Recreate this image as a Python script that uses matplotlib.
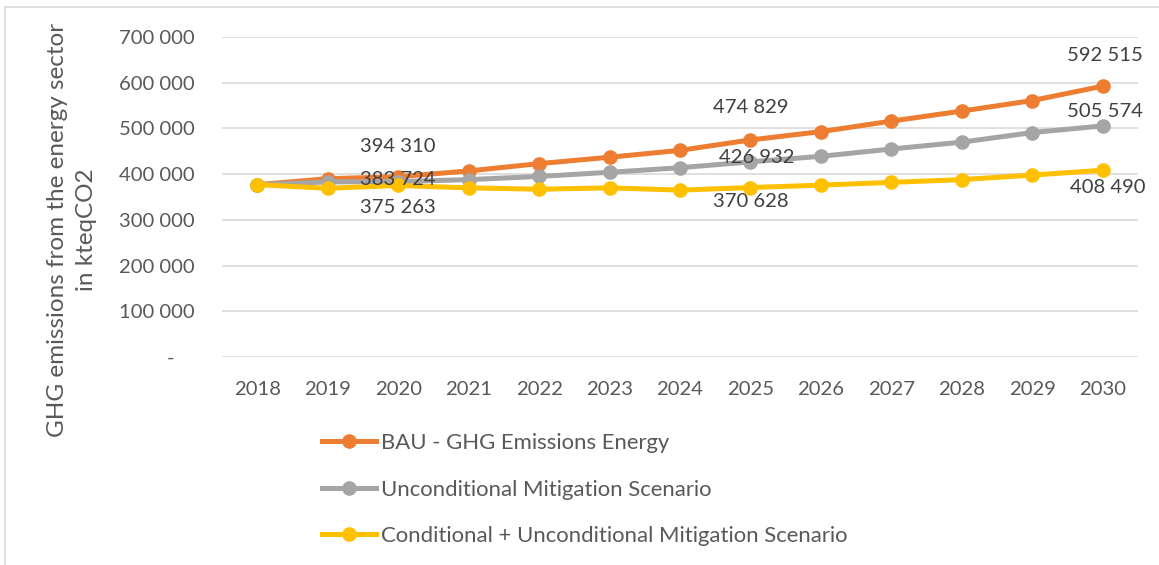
import matplotlib
matplotlib.use("Agg")
import matplotlib.pyplot as plt
from matplotlib.lines import Line2D

years = ["2018", "2019", "2020", "2021", "2022", "2023", "2024",
         "2025", "2026", "2027", "2028", "2029", "2030"]
bau = [377000, 390000, 394310, 407000, 423000, 437000, 452000,
       474829, 493000, 516000, 538000, 561000, 592515]
uncond = [377000, 383000, 383724, 388000, 395000, 404000, 414000,
          426932, 439000, 455000, 470000, 491000, 505574]
cond = [377000, 369000, 375263, 370000, 367000, 370000, 365000,
        370628, 376000, 382000, 388000, 398000, 408490]
series_names = ["BAU - GHG Emissions Energy",
                "Unconditional Mitigation Scenario",
                "Conditional + Unconditional Mitigation Scenario"]
yticks = [0, 100000, 200000, 300000, 400000, 500000, 600000, 700000]
ylabel = "GHG emissions from the energy sector\nin kteqCO2"

colors = ["#ED7D31", "#A5A5A5", "#FFC000"]
txt = "#595959"
plt.rcParams['font.family'] = ['Lato', 'DejaVu Sans']

fig = plt.figure(figsize=(11.59, 5.65), dpi=100)
ax = fig.add_axes([222/1159, 1-357/565, (1138-222)/1159, (357-37)/565])

x = list(range(len(years)))
for data, c in zip([bau, uncond, cond], colors):
    ax.plot(x, data, color=c, lw=3.6, marker='o', markersize=9.5,
            solid_capstyle='round', zorder=3)

ax.set_xlim(-0.5, len(years) - 0.5)
ax.set_ylim(0, 700000)
ax.set_yticks(yticks)
ax.set_yticklabels([("-    " if v == 0 else f"{v:,}".replace(",", " ")) for v in yticks])
ax.set_xticks(x)
ax.set_xticklabels(years)
ax.grid(axis='y', color='#D9D9D9', lw=1.2, zorder=0)
for s in ax.spines.values():
    s.set_visible(False)
ax.tick_params(axis='y', length=0, pad=19.5, labelsize=14.6, labelcolor=txt)
ax.tick_params(axis='x', length=0, pad=17, labelsize=14.6, labelcolor=txt)

def fmt(v):
    return f"{v:,}".replace(",", " ")

lab_kw = dict(fontsize=14.6, color="#404040", ha='center', va='center', zorder=4,
              textcoords='offset pixels')
i20 = years.index("2020"); i25 = years.index("2025"); i30 = years.index("2030")
ax.annotate(fmt(bau[i20]), (i20, bau[i20]), xytext=(0, 30), **lab_kw)
ax.annotate(fmt(uncond[i20]), (i20, uncond[i20]), xytext=(0, 2), **lab_kw)
ax.annotate(fmt(cond[i20]), (i20, cond[i20]), xytext=(0, -22), **lab_kw)
ax.annotate(fmt(bau[i25]), (i25, bau[i25]), xytext=(0, 32), **lab_kw)
ax.annotate(fmt(uncond[i25]), (i25, uncond[i25]), xytext=(6, 4), **lab_kw)
ax.annotate(fmt(cond[i25]), (i25, cond[i25]), xytext=(0, -14), **lab_kw)
ax.annotate(fmt(bau[i30]), (i30, bau[i30]), xytext=(2, 31), **lab_kw)
ax.annotate(fmt(uncond[i30]), (i30, uncond[i30]), xytext=(2, 14), **lab_kw)
ax.annotate(fmt(cond[i30]), (i30, cond[i30]), xytext=(5, -17), **lab_kw)

fig.text(72/1159, 1-230/565, ylabel, rotation=90, ha='center', va='center',
         fontsize=17.5, color=txt, linespacing=1.45)

handles = [Line2D([], [], color=c, lw=3.6, marker='o', markersize=9.5) for c in colors]
fig.legend(handles, series_names, loc='upper left',
           bbox_to_anchor=(322/1159, 1-433/565), frameon=False,
           fontsize=15.9, labelcolor=txt, handlelength=2.45, handletextpad=0.2,
           labelspacing=1.2, borderaxespad=0, borderpad=0)

fig.add_artist(Line2D([5/1159, 5/1159], [0, 1-7/565], transform=fig.transFigure,
                      color='#D9D9D9', lw=1.2))
fig.add_artist(Line2D([5/1159, 1], [1-7/565, 1-7/565], transform=fig.transFigure,
                      color='#D9D9D9', lw=1.2))

fig.savefig("out.png", dpi=100)
